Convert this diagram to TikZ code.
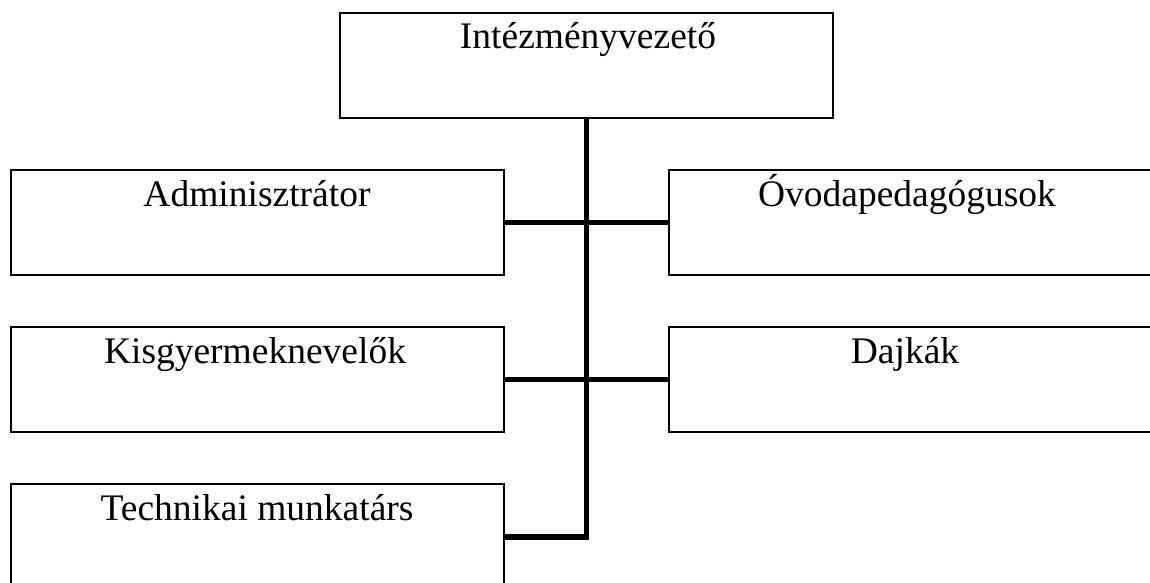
\documentclass[tikz,border=0pt]{standalone}
\usepackage{fontspec}
\setmainfont{Liberation Serif}
\begin{document}
\begin{tikzpicture}[x=1pt,y=-1pt,
  box/.style={draw=black, line width=1.6pt, rectangle, inner sep=0pt, anchor=north west},
  lbl/.style={anchor=base, inner sep=0pt, font=\fontsize{37.5}{42}\selectfont},
  conn/.style={draw=black, line width=5.5pt, line join=miter}]
\useasboundingbox (0,0) rectangle (1150,583);
\fill[white] (0,0) rectangle (1150,583);
% boxes
\node[box, minimum width=493pt, minimum height=105pt] (top) at (339,12) {};
\node[box, minimum width=493pt, minimum height=105pt] (adm) at (10,169) {};
\node[box, minimum width=493pt, minimum height=105pt] (kis) at (10,326) {};
\node[box, minimum width=493pt, minimum height=106pt] (tech) at (10,483) {};
\node[box, minimum width=492pt, minimum height=105pt] (ovo) at (668,169) {};
\node[box, minimum width=492pt, minimum height=105pt] (daj) at (668,326) {};
% labels
\node[lbl] (ttop) at (588,49) {Intézményvezető};
\node[lbl] (tadm) at (257,206) {Adminisztrátor};
\node[lbl] (tkis) at (255,363) {Kisgyermeknevelők};
\node[lbl] (ttech) at (257,520) {Technikai munkatárs};
\node[lbl] (tovo) at (907,206) {Óvodapedagógusok};
\node[lbl] (tdaj) at (905,363) {Dajkák};
% connectors
\draw[conn] (tech.east) -- (tech.east -| top.south) -- (top.south);
\draw[conn] (adm.east) -- (ovo.west);
\draw[conn] (kis.east) -- (daj.west);
\end{tikzpicture}
\end{document}
